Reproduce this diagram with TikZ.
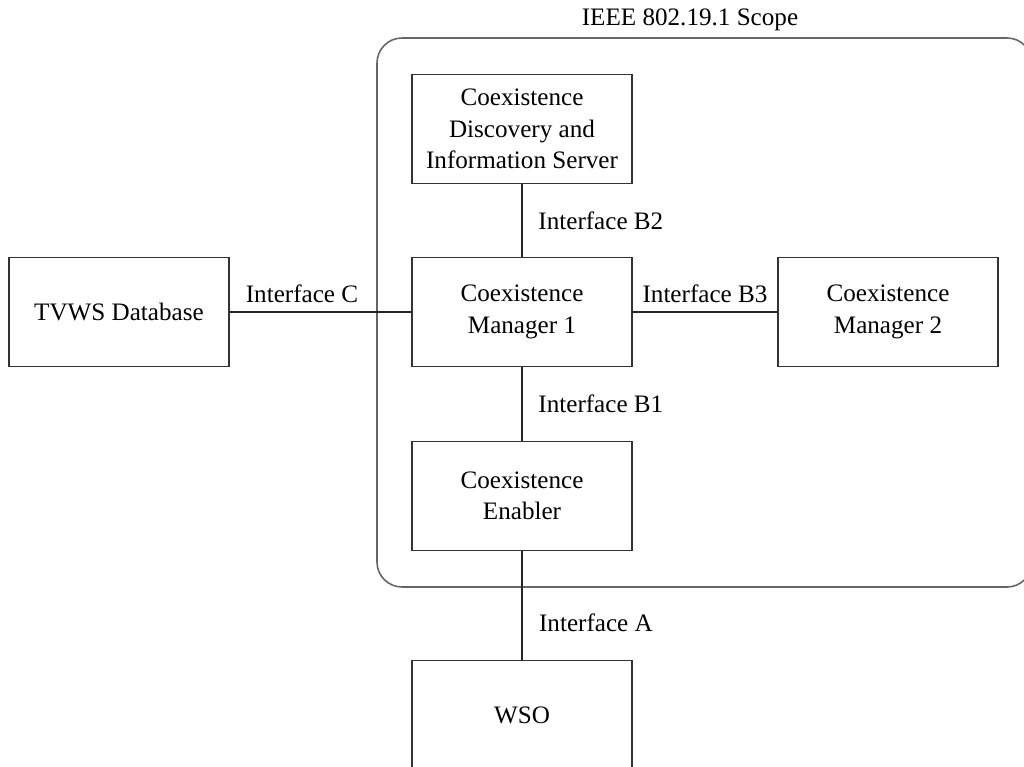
\documentclass[tikz,border=0pt]{standalone}
\usepackage{fontspec}
\setmainfont{Liberation Serif}
\usetikzlibrary{positioning}

\tikzset{
  block/.style={draw=black!80,line width=0.7pt,rectangle,minimum width=4.4cm,minimum height=2.18cm,align=center,inner sep=2pt},
  link/.style={draw=black!85,line width=0.7pt},
  iflabel/.style={inner sep=1pt}
}

\begin{document}
\begin{tikzpicture}[x=0.02cm,y=-0.02cm,font=\fontsize{14.3}{17.8}\selectfont]
%
\useasboundingbox (0,0) rectangle (1024,767);
%
% scope of the standard
\draw[black!60,line width=0.9pt,rounded corners=0.5cm] (377,38) rectangle (1032,587);
\node[iflabel] (scope) at (690,20) {IEEE 802.19.1 Scope};
%
\node[block] (cdis) at (522,129) {Coexistence\\Discovery and\\Information Server};
\node[block] (cm1)  at (522,312) {Coexistence\\Manager 1};
\node[block] (cm2)  at (888,312) {Coexistence\\Manager 2};
\node[block] (ce)   at (522,496) {Coexistence\\Enabler};
\node[block] (tvws) at (119,312) {TVWS Database};
\node[block] (wso)  at (522,715) {WSO};
%
\draw[link] (cdis) -- node[iflabel,right=8pt] {Interface B2} (cm1);
\draw[link] (cm1) -- node[iflabel,right=8pt] {Interface B1} (ce);
\draw[link] (tvws) -- (cm1);
\draw[link] (cm1) -- node[iflabel,above=4pt] {Interface B3} (cm2);
\draw[link] (ce) -- (wso);
\node[iflabel] (ifc) at (302,294) {Interface C};
\node[iflabel,anchor=west] (ifa) at (537,623) {Interface A};
%
\end{tikzpicture}
\end{document}
